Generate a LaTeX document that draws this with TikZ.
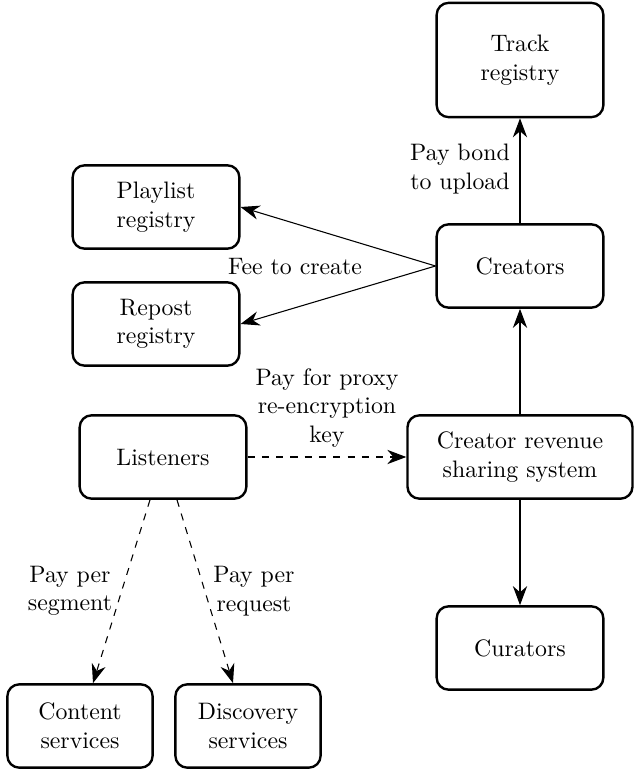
\documentclass[tikz,border=0pt]{standalone}
\usetikzlibrary{arrows.meta,calc}
\begin{document}
\begin{tikzpicture}[x=0.42pt,y=-0.42pt,
  box/.style={draw,line width=1pt,rounded corners=5pt,align=center,
    minimum width=70pt,minimum height=35pt,inner sep=2pt},
  flow/.style={line width=0.45pt,-{Stealth[length=8pt,width=6pt,inset=2.6pt]}},
  paid/.style={flow,dashed},
  lbl/.style={align=center,inner sep=0pt}]
\useasboundingbox (0,0) rectangle (633,769);

% registries and parties
\node[box,minimum height=48pt] (track) at (520,60) {Track\\registry};
\node[box] (creators) at (520,266) {Creators};
\node[box] (playlist) at (156,207) {Playlist\\registry};
\node[box] (repost) at (156,324) {Repost\\registry};
\node[box] (listeners) at (163,457) {Listeners};
\node[box,minimum width=94.5pt] (revenue) at (520,457) {Creator revenue\\sharing system};
\node[box] (curators) at (520,648) {Curators};
\node[box,minimum width=61pt] (content) at (80,726) {Content\\services};
\node[box,minimum width=61pt] (discovery) at (248,726) {Discovery\\services};

% payment labels
\node[lbl] (bond) at (460,169) {Pay bond\\to upload};
\node[lbl] (fee) at (295,267) {Fee to create};
\node[lbl] (proxy) at (327,408) {Pay for proxy\\re-encryption\\key};
\node[lbl] (segment) at (70,591) {Pay per\\segment};
\node[lbl] (request) at (254,591) {Pay per\\request};

% payments
\draw[flow] (creators.north) -- (track.south);
\draw[flow] (creators.west) -- (playlist.east);
\draw[flow] (creators.west) -- (repost.east);
\draw[flow] (revenue.north) -- (creators.south);
\draw[flow] (revenue.south) -- (curators.north);
\draw[paid] (listeners.east) -- (revenue.west);
\draw[paid] ($(listeners.south)+(-13,0)$) -- ($(content.north)+(13,0)$);
\draw[paid] ($(listeners.south)+(14,0)$) -- ($(discovery.north)+(-15,0)$);
\end{tikzpicture}
\end{document}
